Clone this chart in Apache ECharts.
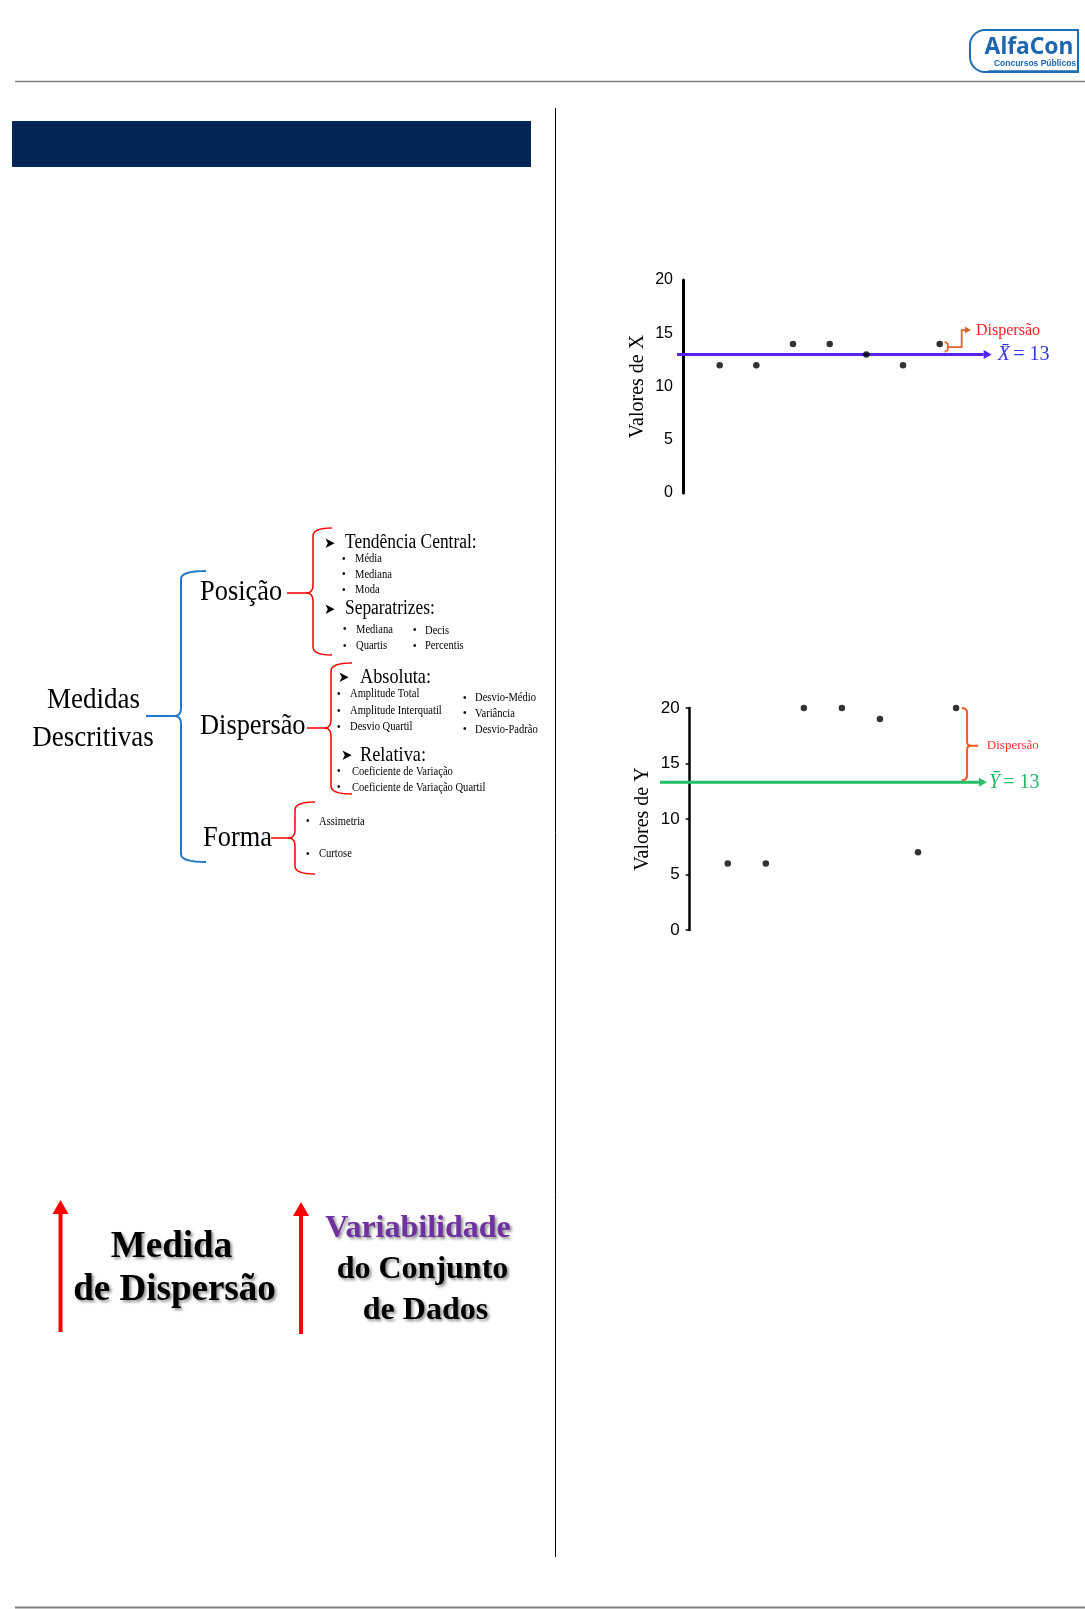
<!DOCTYPE html>
<html><head><meta charset="utf-8">
<script src="https://cdn.jsdelivr.net/npm/echarts@6/dist/echarts.min.js"></script>
<style>html,body{margin:0;padding:0;background:#fff}#c{width:1085px;height:1609px}</style>
</head><body><div id="c"></div>
<script>
// ---- data ----
const obsIndex = [1, 2, 3, 4, 5, 6, 7];
const valoresX = [12, 12, 14, 14, 13, 12, 14];
const valoresY = [6, 6, 20, 20, 19, 7, 20];
const mediaX = 13;
const mediaY = 13.3;
const mediaLabel = '13';
const yTicks = [0, 5, 10, 15, 20];

const SERIF = '"Liberation Serif", "Times New Roman", serif';
const SANS = '"Liberation Sans", Arial, sans-serif';

const chart = echarts.init(document.getElementById('c'), null, {renderer: 'canvas', width: 1085, height: 1609});

// x unit widths of the two plots (px per observation index)
const unit1 = 36.67, unit2 = 38.05;

function yAxisCfg(gi, name, nameGap, lw, ticks, fs, margin, offset) {
  return {
    gridIndex: gi, type: 'value', offset: offset,
    min: yTicks[0], max: yTicks[yTicks.length - 1], interval: yTicks[1] - yTicks[0],
    name: name, nameLocation: 'middle', nameGap: nameGap,
    nameTextStyle: {fontFamily: SERIF, fontSize: 20, color: '#000'},
    axisLine: {show: true, onZero: false, lineStyle: {color: '#000', width: lw}},
    axisTick: {show: ticks, length: 4, lineStyle: {color: '#000', width: 1.5}},
    axisLabel: {fontFamily: SANS, fontSize: fs, color: '#000', margin: margin},
    splitLine: {show: false}
  };
}

function pointsSeries(gi, values) {
  return {
    type: 'scatter', xAxisIndex: gi, yAxisIndex: gi,
    data: obsIndex.map((k, i) => [k, values[i]]),
    symbolSize: 6.5, itemStyle: {color: '#000'}, silent: true, z: 3
  };
}
function meanSeries(gi, color, lblColor, mean, from, to, sym, dist, fs) {
  return {
    type: 'line', xAxisIndex: gi, yAxisIndex: gi,
    data: [[from, mean], [to, mean]],
    showSymbol: false, symbol: 'none', silent: true, z: 2,
    lineStyle: {color: color, width: 3, type: 'solid'},
    emphasis: {disabled: true},
    endLabel: {
      show: true, distance: dist,
      formatter: '{a|' + sym + '\u0304} {b|= ' + mediaLabel + '}',
      rich: {
        a: {fontFamily: SERIF, fontStyle: 'italic', fontSize: fs, color: lblColor},
        b: {fontFamily: SERIF, fontSize: fs, color: lblColor}
      }
    }
  };
}

const meanFromX = -0.16, meanToX = 8.2;
const meanFromY = -0.78, meanToY = 7.6;

chart.setOption({
  animation: false,
  backgroundColor: '#fff',
  grid: [
    {left: 683 - unit1, top: 280, width: unit1 * 10, height: 213},
    {left: 689.7 - unit2, top: 708, width: unit2 * 10, height: 222}
  ],
  xAxis: [
    {gridIndex: 0, type: 'value', min: -1, max: 9, show: false},
    {gridIndex: 1, type: 'value', min: -1, max: 9, show: false}
  ],
  yAxis: [
    yAxisCfg(0, 'Valores de X', 35, 3, false, 16, 10, -unit1),
    yAxisCfg(1, 'Valores de Y', 37, 2.5, true, 17, 10, -unit2)
  ],
  series: [
    pointsSeries(0, valoresX),
    meanSeries(0, '#5522EE', '#3434E2', mediaX, meanFromX, meanToX, 'X', 14, 20),
    pointsSeries(1, valoresY),
    meanSeries(1, '#22BF66', '#22B866', mediaY, meanFromY, meanToY, 'Y', 10, 20)
  ]
});

// ---- decorations ----
const G = [];
function txt(text, x, y, size, o) {
  o = o || {};
  G.push({
    type: 'text', x: x, y: y, scaleX: o.sx || 1, silent: true,
    style: {
      text: text, fill: o.color || '#000', fontSize: size,
      fontFamily: o.font || SERIF, fontWeight: o.bold ? 'bold' : 'normal',
      fontStyle: o.italic ? 'italic' : 'normal',
      align: o.align || 'left', verticalAlign: 'middle',
      textShadowColor: o.shadow ? 'rgba(0,0,0,0.45)' : 'transparent',
      textShadowBlur: o.shadow ? 3 : 0,
      textShadowOffsetX: o.shadow ? 2 : 0, textShadowOffsetY: o.shadow ? 2 : 0
    }
  });
}
function line(x1, y1, x2, y2, color, w) {
  G.push({type: 'line', silent: true, shape: {x1, y1, x2, y2}, style: {stroke: color, lineWidth: w}});
}
function poly(points, color, w) {
  G.push({type: 'polyline', silent: true, shape: {points: points}, style: {stroke: color, lineWidth: w, fill: null}});
}
function tri(points, color) {
  G.push({type: 'polygon', silent: true, shape: {points: points}, style: {fill: color}});
}
function quad(p0, c, p1, n) {
  const out = [];
  for (let i = 0; i <= n; i++) {
    const t = i / n, u = 1 - t;
    out.push([u * u * p0[0] + 2 * u * t * c[0] + t * t * p1[0], u * u * p0[1] + 2 * u * t * c[1] + t * t * p1[1]]);
  }
  return out;
}
// left-opening brace "{": tip points left at (x - t, mid)
function brace(x, top, bot, mid, hookX, stemX, color, w) {
  const r = 8, t = 7;
  const upper = [].concat(
    quad([hookX, top], [x, top], [x, top + r], 8),
    [[x, mid - r]],
    quad([x, mid - r], [x, mid], [x - t, mid], 6)
  );
  const lower = [].concat(
    quad([x - t, mid], [x, mid], [x, mid + r], 6),
    [[x, bot - r]],
    quad([x, bot - r], [x, bot], [hookX, bot], 8)
  );
  poly(upper.concat([[stemX, mid]]), color, w);
  poly(lower, color, w);
}

// header / footer / frame
line(15, 81.5, 1085, 81.5, '#808080', 1.5);
line(15, 1607.5, 1085, 1607.5, '#808080', 2);
line(555.5, 108, 555.5, 1557, '#000', 1);
G.push({type: 'rect', silent: true, shape: {x: 12, y: 121, width: 519, height: 46}, style: {fill: '#032654'}});

// logo
G.push({type: 'rect', silent: true, shape: {x: 970, y: 30, width: 108, height: 42, r: [15, 0, 0, 15]}, style: {fill: '#fff', stroke: '#1F6DB5', lineWidth: 2}});
line(988, 71.5, 1078, 71.5, '#1F6DB5', 2.5);
txt('AlfaCon', 1029, 47, 24, {font: '"Noto Sans", ' + SANS, bold: true, color: '#1D66B2', align: 'center', sx: 0.95});
txt('Concursos Públicos', 1035, 64, 8.5, {font: SANS, bold: true, color: '#1D66B2', align: 'center'});

// diagram
brace(181, 571, 862, 716, 206, 146, '#1F78CC', 2);
txt('Medidas', 93.5, 700, 30, {align: 'center', sx: 0.9});
txt('Descritivas', 93, 738, 30, {align: 'center', sx: 0.9});
txt('Posição', 200, 592, 30, {sx: 0.88});
txt('Dispersão', 200, 726, 30, {sx: 0.88});
txt('Forma', 203, 838, 30, {sx: 0.88});

brace(313, 528, 655, 593, 332, 287, '#FF0000', 1.5);
brace(331, 663, 794, 728, 352, 307, '#FF0000', 1.5);
brace(295, 802, 874, 838, 315, 271, '#FF0000', 1.5);

const ARW = '"DejaVu Sans", sans-serif';
function head(text, ax, tx, y, size) {
  txt('\u27A4', ax, y + 1, 15, {font: ARW, sx: 0.9});
  txt(text, tx, y, size, {sx: 0.87});
}
function item(text, bx, tx, y) {
  txt('\u2022', bx, y, 10, {font: SANS});
  txt(text, tx, y, 12, {sx: 0.88});
}
head('Tendência Central:', 324, 345, 543, 20);
item('Média', 342, 355, 559);
item('Mediana', 342, 355, 574.5);
item('Moda', 342, 355, 590);
head('Separatrizes:', 324, 345, 609, 20);
item('Mediana', 343, 356, 629.5);
item('Decis', 413, 425, 630.5);
item('Quartis', 343, 356, 646);
item('Percentis', 413, 425, 646);

head('Absoluta:', 338, 360, 677, 21);
item('Amplitude Total', 337, 350, 694);
item('Amplitude Interquatil', 337, 350, 711);
item('Desvio Quartil', 337, 350, 727);
item('Desvio-Médio', 463, 475, 698);
item('Variância', 463, 475, 713.5);
item('Desvio-Padrão', 463, 475, 729.5);
head('Relativa:', 341, 360, 755, 21);
item('Coeficiente de Variação', 337, 352, 771.5);
item('Coeficiente de Variação Quartil', 337, 352, 787.5);

item('Assimetria', 306, 319, 821.5);
item('Curtose', 306, 319, 854);

// bottom arrows and texts
function upArrow(x, top, bot) {
  line(x, bot, x, top + 10, '#FF0000', 4);
  tri([[x, top], [x - 8, top + 14], [x + 8, top + 14]], '#FF0000');
}
upArrow(60.5, 1200, 1332);
upArrow(301, 1202, 1334);
txt('Medida', 171.5, 1247, 37, {bold: true, align: 'center', shadow: true});
txt('de Dispersão', 174.5, 1290, 37, {bold: true, align: 'center', shadow: true});
txt('Variabilidade', 418, 1229, 32, {bold: true, align: 'center', shadow: true, color: '#7030A0'});
txt('do Conjunto', 422.5, 1270, 32, {bold: true, align: 'center', shadow: true});
txt('de Dados', 425.5, 1311, 32, {bold: true, align: 'center', shadow: true});

// chart annotations positioned through the axes
const P = (g, x, y) => chart.convertToPixel({xAxisIndex: g, yAxisIndex: g}, [x, y]);
(function () {
  const e1 = P(0, meanToX, mediaX);
  tri([[e1[0] + 8, e1[1]], [e1[0], e1[1] - 4.5], [e1[0], e1[1] + 4.5]], '#5522EE');
  const e2 = P(1, meanToY, mediaY);
  tri([[e2[0] + 8, e2[1]], [e2[0], e2[1] - 4.5], [e2[0], e2[1] + 4.5]], '#22BF66');
})();
(function () {
  const c = '#E2622A';
  const a = P(0, 7.22, 14.2), b = P(0, 7.22, 13.25), m = P(0, 7.22, 13.7);
  const r = P(0, 7.6, 13.7), u = P(0, 7.6, 15.3), e = P(0, 7.85, 15.3);
  poly([[a[0] - 3, a[1]], [a[0], a[1] + 2], [a[0], b[1] - 2], [a[0] - 3, b[1]]], c, 1.8);
  poly([[a[0], m[1]], [r[0], r[1]], [u[0], u[1]], [e[0] - 4, e[1]]], c, 1.8);
  tri([[e[0], e[1]], [e[0] - 6, e[1] - 3.5], [e[0] - 6, e[1] + 3.5]], c);
  const tp = P(0, 7.99, 15.2);
  txt('Dispersão', tp[0], tp[1], 16, {color: '#FF2222'});
})();
(function () {
  const c = '#F25A22';
  const t = P(1, 7.29, 20), bt = P(1, 7.29, 13.5), md = P(1, 7.29, 16.6);
  const hx = P(1, 7.15, 20)[0], sx = P(1, 7.58, 16.6)[0];
  const x = t[0];
  const upper = [].concat(
    quad([hx, t[1]], [x, t[1]], [x, t[1] + 5], 6),
    [[x, md[1] - 4]],
    quad([x, md[1] - 4], [x, md[1]], [x + 4, md[1]], 5)
  );
  const lower = [].concat(
    quad([x + 4, md[1]], [x, md[1]], [x, md[1] + 4], 5),
    [[x, bt[1] - 5]],
    quad([x, bt[1] - 5], [x, bt[1]], [hx, bt[1]], 6)
  );
  poly(upper.concat([[sx, md[1]]]), c, 2);
  poly(lower, c, 2);
  const tp = P(1, 7.81, 16.6);
  txt('Dispersão', tp[0], tp[1], 13, {color: '#FF3030'});
})();

chart.setOption({graphic: G});
</script>
</body></html>
